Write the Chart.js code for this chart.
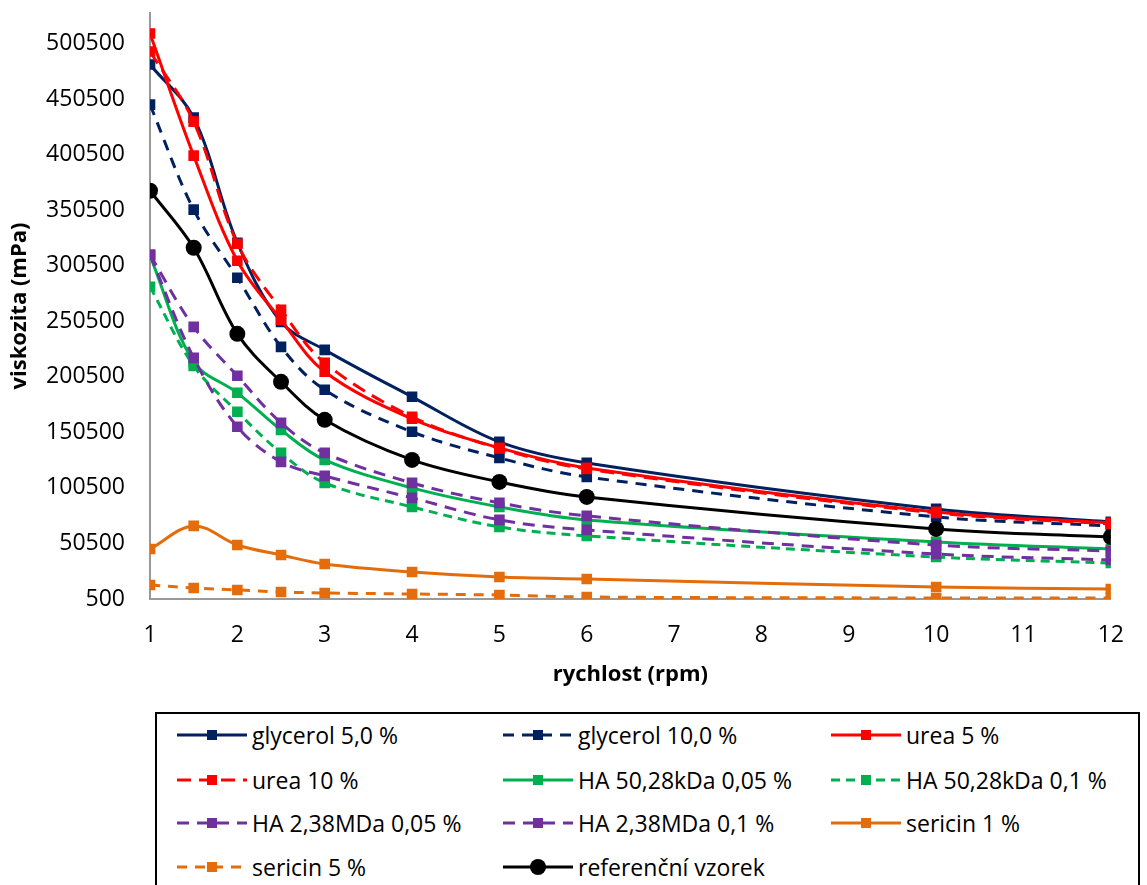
<!DOCTYPE html>
<html>
<head>
<meta charset="utf-8">
<script src="https://cdn.jsdelivr.net/npm/chart.js@4.4.1/dist/chart.umd.min.js"></script>
<style>
body { margin: 0; background: #fff; font-family: 'Open Sans', sans-serif; }
#wrap { position: absolute; left: 0; top: 0; width: 1147px; height: 700px; }
#legend { position: absolute; left: 155px; top: 712px; width: 985px; height: 200px; border: 2px solid #000; border-bottom: none; box-sizing: border-box; }
.item { position: absolute; height: 30px; display: flex; align-items: center; font-size: 23px; color: #000; white-space: nowrap; }
.item svg { flex: none; }
.item span { margin-left: 5px; }
</style>
</head>
<body>
<div id="wrap"><canvas id="chart"></canvas></div>
<div id="legend"></div>
<script>
const speeds = [1, 1.5, 2, 2.5, 3, 4, 5, 6, 10, 12];
const yTicks = [500, 50500, 100500, 150500, 200500, 250500, 300500, 350500, 400500, 450500, 500500];

const glycerol5 = [481600, 433800, 321200, 250000, 224800, 182500, 141900, 123000, 81600, 69900];
const glycerol10 = [445500, 351000, 289700, 227500, 188800, 151000, 127500, 110400, 74400, 66300];
const urea5 = [509500, 399600, 305000, 251800, 205000, 162700, 136500, 118500, 78900, 69000];
const urea10 = [493300, 430200, 320300, 260900, 213100, 164500, 136000, 117600, 78000, 68100];
const ha50_005 = [309500, 214000, 186100, 152700, 125700, 100500, 83400, 71700, 51900, 45500];
const ha50_01 = [281600, 210400, 169000, 132000, 105000, 83400, 65400, 57300, 38300, 32900];
const ha238_005 = [310400, 245500, 201400, 159000, 132000, 105000, 87000, 75300, 49100, 43700];
const ha238_01 = [310400, 217600, 155500, 123900, 111300, 91500, 71700, 62700, 41000, 35600];
const sericin1 = [45500, 66300, 49100, 40100, 32000, 24800, 20300, 18500, 11300, 9500];
const sericin5 = [13100, 10400, 8600, 6800, 5900, 5000, 4100, 2300, 1400, 1400];
const reference = [368000, 316700, 239200, 196000, 161800, 125700, 105900, 92400, 63600, 56300];

const series = [
    { label: 'glycerol 5,0 %', data: glycerol5, color: '#002060', dash: [] },
    { label: 'glycerol 10,0 %', data: glycerol10, color: '#002060', dash: [11, 8] },
    { label: 'urea 5 %', data: urea5, color: '#FF0000', dash: [] },
    { label: 'urea 10 %', data: urea10, color: '#FF0000', dash: [14, 8] },
    { label: 'HA 50,28kDa 0,05 %', data: ha50_005, color: '#00B050', dash: [] },
    { label: 'HA 50,28kDa 0,1 %', data: ha50_01, color: '#00B050', dash: [9, 6] },
    { label: 'HA 2,38MDa 0,05 %', data: ha238_005, color: '#7030A0', dash: [12, 8] },
    { label: 'HA 2,38MDa 0,1 %', data: ha238_01, color: '#7030A0', dash: [12, 8] },
    { label: 'sericin 1 %', data: sericin1, color: '#E46C0A', dash: [] },
    { label: 'sericin 5 %', data: sericin5, color: '#E46C0A', dash: [10, 8] },
    { label: 'referenční vzorek', data: reference, color: '#000000', dash: [], circle: true }
];

const datasets = series.map((s, i) => ({
    label: s.label,
    data: speeds.map((x, j) => ({ x: x, y: s.data[j] })),
    borderColor: s.color,
    backgroundColor: s.color,
    borderWidth: 3,
    borderDash: s.dash,
    tension: 0.35,
    pointStyle: s.circle ? 'circle' : 'rect',
    pointRadius: s.circle ? 8 : 7.5,
    pointBorderWidth: 0,
    order: -i
}));

const H = 700;
const chart = new Chart(document.getElementById('chart'), {
    type: 'line',
    data: { datasets: datasets },
    options: {
        responsive: true,
        maintainAspectRatio: false,
        animation: false,
        layout: { padding: { top: 13, right: 15, left: 0, bottom: 0 } },
        plugins: { legend: { display: false }, tooltip: { enabled: false } },
        scales: {
            x: {
                type: 'linear',
                min: 1,
                max: 12,
                grid: { display: false, drawTicks: false },
                border: { display: true, color: '#999', width: 2 },
                ticks: { stepSize: 1, padding: 23, color: '#000', font: { family: 'Open Sans', size: 23 } },
                title: { display: true, text: 'rychlost (rpm)', color: '#000', padding: { top: 12, bottom: 12 }, font: { family: 'Open Sans', size: 22, weight: 'bold' } },
                afterFit: (scale) => { scale.height = H - 599; }
            },
            y: {
                min: 500,
                max: 528000,
                grid: { display: false, drawTicks: false },
                border: { display: true, color: '#999', width: 2 },
                afterBuildTicks: (scale) => { scale.ticks = yTicks.map(v => ({ value: v })); },
                ticks: { padding: 25, color: '#000', font: { family: 'Open Sans', size: 23 }, callback: (v) => String(v) },
                title: { display: true, text: 'viskozita (mPa)', color: '#000', padding: { top: 7, bottom: 7 }, font: { family: 'Open Sans', size: 22, weight: 'bold' } },
                afterFit: (scale) => { scale.width = 150; scale.paddingTop = 0; }
            }
        }
    }
});

// legend in three columns, drawn as html
const legendEl = document.getElementById('legend');
const colLeft = [20, 346, 674];
const rowTop = [6, 51, 94, 138];
series.forEach((s, i) => {
    const col = i % 3, row = Math.floor(i / 3);
    const item = document.createElement('div');
    item.className = 'item';
    item.style.left = colLeft[col] + 'px';
    item.style.top = rowTop[row] + 'px';
    const marker = s.circle
        ? `<circle cx="35" cy="10" r="8" fill="${s.color}"/>`
        : `<rect x="30" y="5" width="10" height="10" fill="${s.color}"/>`;
    item.innerHTML = `<svg width="70" height="20"><line x1="0" y1="10" x2="70" y2="10" stroke="${s.color}" stroke-width="3" stroke-dasharray="${s.dash.length ? s.dash.join(' ') : 'none'}"/>${marker}</svg><span>${s.label}</span>`;
    legendEl.appendChild(item);
});
</script>
</body>
</html>
